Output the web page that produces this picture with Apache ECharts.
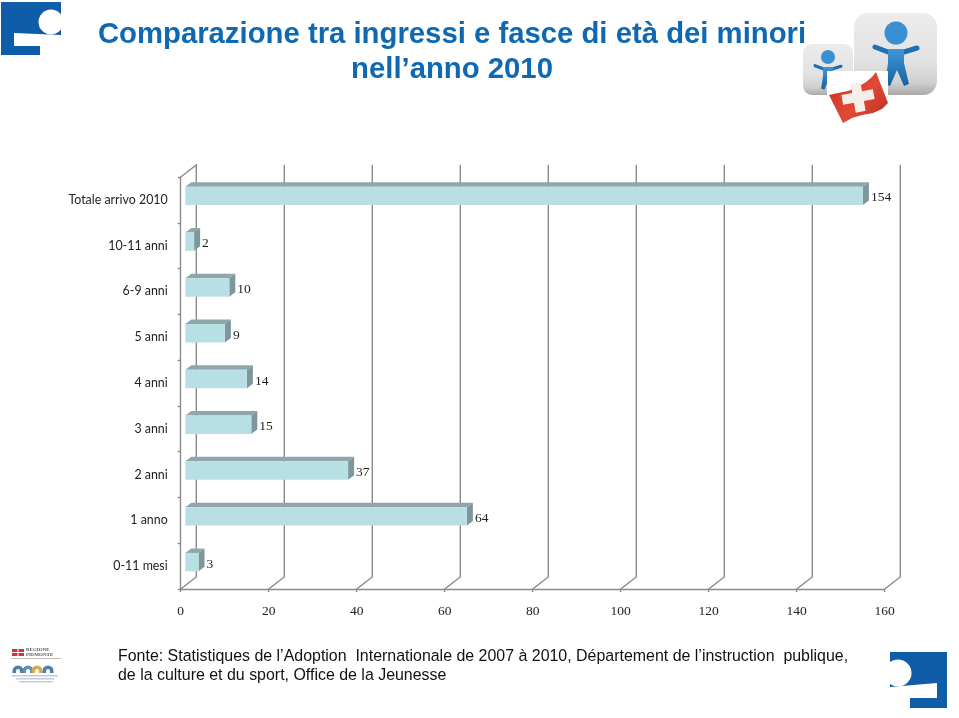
<!DOCTYPE html>
<html><head><meta charset="utf-8">
<style>html,body{margin:0;padding:0;background:#fff}#c{width:959px;height:718px}</style>
<script src="https://cdn.jsdelivr.net/npm/echarts@6/dist/echarts.min.js"></script>
</head><body><div id="c"></div>
<script>
var categories = ['Totale arrivo 2010','10-11 anni','6-9 anni','5 anni','4 anni','3 anni','2 anni','1 anno','0-11 mesi'];
var values = [154,2,10,9,14,15,37,64,3];
var xTicks = [0,20,40,60,80,100,120,140,160];
var titleText = 'Comparazione tra ingressi e fasce di età dei minori\nnell’anno 2010';
var sourceText = 'Fonte: Statistiques de l’Adoption  Internationale de 2007 à 2010, Département de l’instruction  publique,\nde la culture et du sport, Office de la Jeunesse';

var AXIS='#8b8b8b';
var WALL_DX=15.6, WALL_DY=-12, BAR_DX=4.6, BAR_SHIFT=-4, FRONT_H=18.4, SIDE_DX=6, SIDE_DY=-4.5;

function renderBar(params, api){
  var start=api.coord([0,api.value(1)]), end=api.coord([api.value(0),api.value(1)]);
  var x0=start[0]+BAR_DX, x1=end[0]+BAR_DX, cy=start[1]+BAR_SHIFT;
  var t=cy-FRONT_H/2, b=cy+FRONT_H/2;
  return {type:'group',children:[
    {type:'polygon',shape:{points:[[x0,t],[x0+SIDE_DX,t+SIDE_DY],[x1+SIDE_DX,t+SIDE_DY],[x1,t]]},
      style:{fill:'#8fa7aa'}},
    {type:'polygon',shape:{points:[[x1,t],[x1+SIDE_DX,t+SIDE_DY],[x1+SIDE_DX,b+SIDE_DY],[x1,b]]},
      style:{fill:'#7d979c'}},
    {type:'rect',shape:{x:x0,y:t,width:x1-x0,height:b-t},style:{fill:'#b8e0e4'}},
    {type:'text',style:{x:x1+SIDE_DX+2,y:cy+2,text:String(api.value(0)),fill:'#222',
      font:'13.5px "Liberation Serif"',textAlign:'left',textVerticalAlign:'middle'}}
  ]};
}
function renderWall(params, api){
  var cs=params.coordSys, x=api.coord([api.value(0),0])[0], bottom=cs.y+cs.height, top=cs.y;
  var pts=[[x,bottom],[x+WALL_DX,bottom+WALL_DY],[x+WALL_DX,top+WALL_DY]];
  if(api.value(0)===0) pts.push([x,top]);
  return {type:'polyline',shape:{points:pts},style:{fill:'none',stroke:AXIS,lineWidth:1.4}};
}
function person(cx,hy,r,s){
  var g=new echarts.graphic.LinearGradient(0,0,0,1,[{offset:0,color:'#3f97d8'},{offset:1,color:'#17619f'}]);
  return [
    {type:'circle',shape:{cx:cx,cy:hy,r:r},style:{fill:'#3a8fd2'}},
    {type:'polyline',shape:{points:[[cx-21*s,hy+14*s],[cx-8*s,hy+19*s],[cx+8*s,hy+19*s],[cx+21*s,hy+15*s]]},
      style:{stroke:'#1f6fb2',lineWidth:5*s,fill:'none',lineCap:'round',lineJoin:'round'}},
    {type:'polygon',shape:{points:[[cx-8*s,hy+16*s],[cx+8*s,hy+16*s],[cx+8*s,hy+30*s],[cx+13*s,hy+51*s],[cx+8*s,hy+53*s],[cx+1*s,hy+37*s],[cx-6*s,hy+53*s],[cx-11*s,hy+51*s],[cx-8*s,hy+30*s]]},
      style:{fill:g}}
  ];
}
var tile=function(x,y,w,h,r){return {type:'rect',shape:{x:x,y:y,width:w,height:h,r:r},
  style:{fill:new echarts.graphic.LinearGradient(0,0,0,1,[{offset:0,color:'#ececec'},{offset:.6,color:'#e2e2e2'},{offset:.85,color:'#cfcfcf'},{offset:1,color:'#a9a9a9'}])}};};
var BLUE='#0f5ca8';
var deco=[
  {type:'polygon',shape:{points:[[1,2],[61,2],[61,35],[14,33],[14,46],[40,46],[40,55],[1,55]]},style:{fill:BLUE}},
  {type:'circle',shape:{cx:51,cy:22,r:12.5},style:{fill:'#fff'}},
  {type:'rect',shape:{x:61,y:0,width:8,height:40},style:{fill:'#fff'}},
  {type:'polygon',shape:{points:[[890,652],[947,652],[947,708],[910,708],[910,698],[937,698],[937,683],[890,687]]},style:{fill:BLUE}},
  {type:'circle',shape:{cx:898,cy:673,r:13.5},style:{fill:'#fff'}},
  {type:'rect',shape:{x:880,y:650,width:10,height:45},style:{fill:'#fff'}},
  tile(854,13,83,82,14)
].concat(person(896,33,11.5,1)).concat([tile(803,44,50,51,9)]).concat(person(828,57,7,.62)).concat([
  {type:'rect',shape:{x:827,y:71,width:61,height:26},style:{fill:'#fff'}},
  {type:'polygon',shape:{points:[[829,95],[838,93],[848,91],[858,87],[866,82],[872,77],[876,72],[888,103],[882,109],[873,113],[862,115],[852,118],[843,123]]},
    style:{fill:new echarts.graphic.LinearGradient(0,0,1,1,[{offset:0,color:'#c9301f'},{offset:.55,color:'#e04a36'},{offset:1,color:'#b82a1c'}])}},
  {type:'rect',shape:{x:842,y:92,width:32,height:10},rotation:0.18,originX:858,originY:97,style:{fill:'#f6efe9'}},
  {type:'rect',shape:{x:853,y:83,width:10,height:29},rotation:0.18,originX:858,originY:97,style:{fill:'#f6efe9'}},
  {type:'rect',shape:{x:12,y:649,width:12,height:7},style:{fill:'#c8343f'}},
  {type:'rect',shape:{x:12,y:652,width:12,height:1},style:{fill:'#fff'}},
  {type:'rect',shape:{x:17.5,y:649,width:1,height:7},style:{fill:'#fff'}},
  {type:'text',style:{x:26,y:650,text:'REGIONE',font:'bold 5px "Liberation Serif"',fill:'#555',textVerticalAlign:'middle'}},
  {type:'text',style:{x:26,y:655,text:'PIEMONTE',font:'bold 5px "Liberation Serif"',fill:'#555',textVerticalAlign:'middle'}},
  {type:'rect',shape:{x:11,y:658,width:50,height:1},style:{fill:'#c9b9b9'}}
]);
[[18,'#4f7ea6'],[28,'#5e8fb4'],[37,'#d8a94a'],[48,'#4f7ea6']].forEach(function(d){
  deco.push({type:'sector',shape:{cx:d[0],cy:671,r:5.5,r0:2,startAngle:Math.PI,endAngle:2*Math.PI},style:{fill:d[1]}});
  deco.push({type:'rect',shape:{x:d[0]-5.5,y:671,width:3.5,height:2},style:{fill:d[1]}});
  deco.push({type:'rect',shape:{x:d[0]+2,y:671,width:3.5,height:2},style:{fill:d[1]}});
});
[[12,675,46],[16,678,38],[19,681,34]].forEach(function(d){
  deco.push({type:'rect',shape:{x:d[0],y:d[1],width:d[2],height:1.5},style:{fill:'#c3cbd3'}});
});

var chart=echarts.init(document.getElementById('c'),null,{renderer:'canvas'});
chart.setOption({
  animation:false,
  backgroundColor:'#fff',
  title:[
    {text:titleText,left:452,top:17,padding:0,textAlign:'center',
      textStyle:{fontFamily:'Liberation Sans',fontSize:29.3,fontWeight:'bold',color:'#0e68b2',lineHeight:35}},
    {text:sourceText,left:118,top:647,padding:0,
      textStyle:{fontFamily:'Liberation Sans',fontSize:15.95,fontWeight:'normal',color:'#111',lineHeight:19}}
  ],
  grid:{left:180.7,top:177,width:704,height:412,containLabel:false},
  xAxis:{type:'value',min:0,max:160,interval:20,
    axisLine:{show:true,lineStyle:{color:AXIS,width:1.4}},
    axisTick:{show:true,length:3,lineStyle:{color:AXIS,width:1.4}},
    axisLabel:{margin:15,fontFamily:'Liberation Serif',fontSize:13.5,color:'#222'},
    splitLine:{show:false}},
  yAxis:{type:'category',inverse:true,data:categories,
    axisLine:{show:true,lineStyle:{color:AXIS,width:1.4}},
    axisTick:{show:true,length:3,alignWithLabel:false,lineStyle:{color:AXIS,width:1.4}},
    axisLabel:{margin:13,fontFamily:'Lato',fontSize:12.4,color:'#222'}},
  series:[
    {type:'custom',name:'walls',coordinateSystem:'cartesian2d',renderItem:renderWall,clip:false,silent:true,z:1,
      encode:{x:0,y:1},data:xTicks.map(function(v){return [v,0];})},
    {type:'custom',name:'ingressi',coordinateSystem:'cartesian2d',renderItem:renderBar,clip:false,z:3,
      encode:{x:0,y:1},data:values.map(function(v,i){return [v,i];})}
  ],
  graphic:{elements:deco.map(function(e){e.silent=true;return e;})}
});
</script></body></html>
